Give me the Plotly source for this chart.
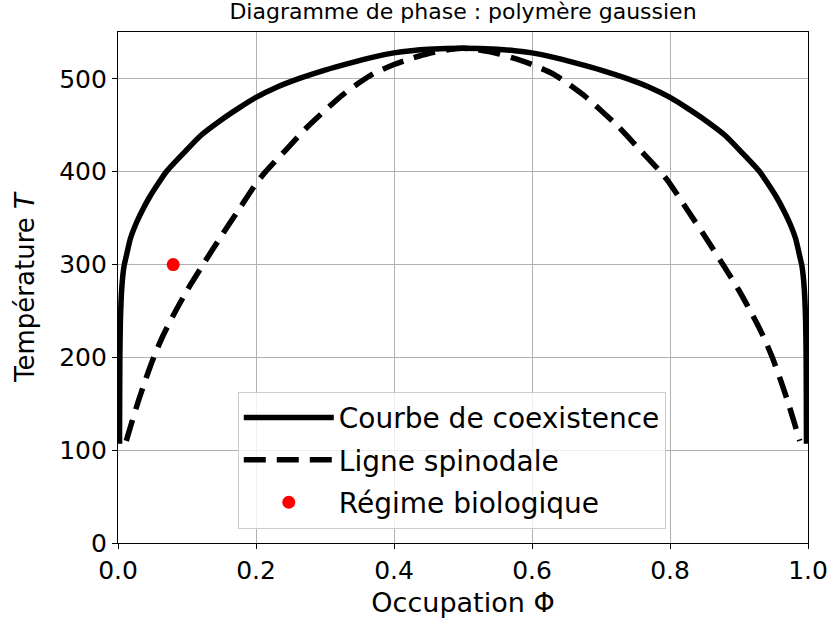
import plotly.graph_objects as go

# Courbe de coexistence (binodale)
phi_coex = [0.0022, 0.0024, 0.0027, 0.0035, 0.0055, 0.0087, 0.012, 0.018, 0.0267, 0.035,
            0.046, 0.058, 0.070, 0.095, 0.120, 0.150, 0.175, 0.200, 0.230, 0.263,
            0.300, 0.336, 0.370, 0.400, 0.425, 0.450, 0.500, 0.550, 0.575, 0.600,
            0.630, 0.664, 0.700, 0.737, 0.770, 0.800, 0.825, 0.850, 0.880, 0.905,
            0.930, 0.942, 0.954, 0.965, 0.9733, 0.982, 0.988, 0.9913, 0.9945, 0.9965,
            0.9973, 0.9976, 0.9978]
T_coex = [107, 150, 200, 240, 275, 298, 309, 328, 345, 358,
          373, 387, 400, 420, 439, 456, 468.5, 480, 491, 500.5,
          509.5, 517, 523.5, 528, 530.4, 531.9, 533, 531.9, 530.4, 528,
          523.5, 517, 509.5, 500.5, 491, 480, 468.5, 456, 439, 420,
          400, 387, 373, 358, 345, 328, 309, 298, 275, 240,
          200, 150, 107]

# Ligne spinodale
phi_spin = [0.012, 0.020, 0.030, 0.040, 0.0518, 0.065, 0.080, 0.100, 0.1233, 0.150,
            0.175, 0.200, 0.2127, 0.2465, 0.2755, 0.300, 0.326, 0.350, 0.370, 0.400,
            0.423, 0.450, 0.480, 0.500, 0.520, 0.550, 0.577, 0.600, 0.630, 0.650,
            0.674, 0.700, 0.7245, 0.7535, 0.7873, 0.800, 0.825, 0.850, 0.8767, 0.900,
            0.920, 0.935, 0.9482, 0.960, 0.970, 0.980, 0.988]
T_spin = [110, 130, 154, 176, 200, 223, 245, 272, 300, 331,
          359, 387, 399, 426, 449, 466, 483, 496, 505.5, 515.5,
          521.5, 527.3, 531.5, 533, 531.5, 527.3, 521.5, 515.5, 505.5, 496,
          483, 466, 449, 426, 399, 387, 359, 331, 300, 272,
          245, 223, 200, 176, 154, 130, 110]

# Régime biologique
phi_bio = [0.08]
T_bio = [300]

x_ticks = [0.0, 0.2, 0.4, 0.6, 0.8, 1.0]
x_labels = ["0.0", "0.2", "0.4", "0.6", "0.8", "1.0"]
y_ticks = [0, 100, 200, 300, 400, 500]
y_labels = ["0", "100", "200", "300", "400", "500"]

FONT = "DejaVu Sans"

fig = go.Figure()
fig.add_trace(go.Scatter(x=phi_coex, y=T_coex, mode="lines", name="Courbe de coexistence",
                         line=dict(color="black", width=5.5, shape="spline", smoothing=0.6),
                         legendgroup="a"))
fig.add_trace(go.Scatter(x=phi_spin, y=T_spin, mode="lines", name="Ligne spinodale",
                         line=dict(color="black", width=5.5, dash="22px,11px",
                                   shape="spline", smoothing=0.7),
                         legendgroup="b"))
fig.add_trace(go.Scatter(x=phi_bio, y=T_bio, mode="markers", name="Régime biologique",
                         marker=dict(color="red", size=13), legendgroup="c"))

axis_common = dict(showgrid=True, gridcolor="#b0b0b0", gridwidth=1,
                   showline=True, linecolor="black", linewidth=1.2, mirror=True,
                   ticks="outside", ticklen=5, tickwidth=1.2, tickcolor="black",
                   zeroline=False, automargin=False,
                   tickfont=dict(family=FONT, size=25, color="black"))

fig.update_xaxes(range=[0, 1], tickvals=x_ticks, ticktext=x_labels,
                 title=dict(text="Occupation Φ", font=dict(family=FONT, size=27, color="black"),
                            standoff=9),
                 **axis_common)
fig.update_yaxes(range=[0, 550.5], tickvals=y_ticks, ticktext=y_labels,
                 title=dict(text="Température <i>T</i>", font=dict(family=FONT, size=26, color="black"),
                            standoff=17),
                 **axis_common)

fig.update_layout(
    width=830, height=626,
    margin=dict(l=118, r=22, t=32, b=83),
    paper_bgcolor="white", plot_bgcolor="white",
    title=dict(text="Diagramme de phase : polymère gaussien",
               font=dict(family=FONT, size=22, color="black"),
               x=0.5, xref="paper", xanchor="center", yref="container", y=0.995, yanchor="top"),
    legend=dict(x=0.1736, y=0.296, xanchor="left", yanchor="top",
                bgcolor="rgba(255,255,255,0.8)", bordercolor="#cccccc", borderwidth=1,
                font=dict(family=FONT, size=28, color="black"),
                traceorder="grouped", tracegroupgap=3, itemwidth=90),
    showlegend=True,
)

fig.write_html("out.html", config={"displayModeBar": False},
               post_script="document.body.style.margin='0';document.body.style.padding='0';")
